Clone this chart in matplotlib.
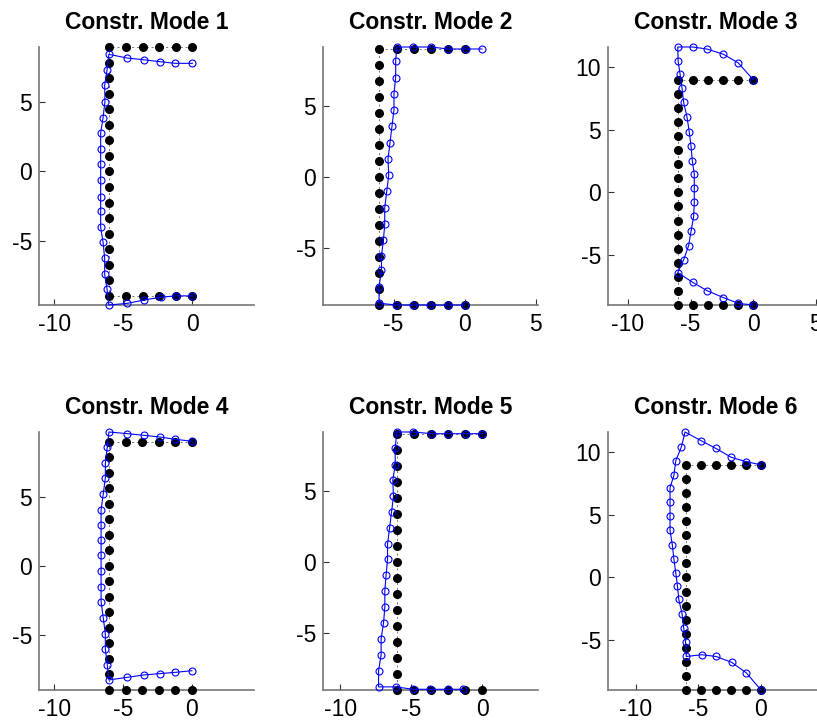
import matplotlib
matplotlib.use("Agg")
import matplotlib.pyplot as plt
from matplotlib.ticker import MultipleLocator

plt.rcParams['font.family'] = ['Liberation Sans', 'DejaVu Sans']
plt.rcParams['axes.unicode_minus'] = False

titles = ["Constr. Mode 1", "Constr. Mode 2", "Constr. Mode 3",
          "Constr. Mode 4", "Constr. Mode 5", "Constr. Mode 6"]

# undeformed channel section: top flange tip -> web -> bottom flange tip
base_x = [0, -1.2, -2.4, -3.6, -4.8, -6,
          -6, -6, -6, -6, -6, -6, -6, -6, -6, -6, -6, -6, -6, -6, -6,
          -6, -4.8, -3.6, -2.4, -1.2, 0]
base_y = [9, 9, 9, 9, 9, 9,
          7.875, 6.75, 5.625, 4.5, 3.375, 2.25, 1.125, 0, -1.125, -2.25, -3.375, -4.5, -5.625, -6.75, -7.875,
          -9, -9, -9, -9, -9, -9]

# deformed shapes, same node order
mode1_x = [0, -1.24, -2.37, -3.53, -4.7, -6.04,
           -6.17, -6.34, -6.32, -6.46, -6.63, -6.63, -6.63, -6.63, -6.63, -6.63, -6.63, -6.46, -6.34, -6.34, -6.17,
           -6.04, -4.7, -3.5, -2.3, -1.2, 0]
mode1_y = [7.82, 7.82, 7.94, 8.08, 8.2, 8.47,
           7.33, 6.24, 5.05, 3.86, 2.79, 1.63, 0.56, -0.61, -1.82, -2.86, -4.05, -5.1, -6.26, -7.45, -8.5,
           -9.66, -9.54, -9.3, -9.1, -9.0, -9.0]

mode2_x = [1.21, 0.07, -1.17, -2.38, -3.62, -4.79,
           -4.86, -4.86, -4.98, -4.98, -5.12, -5.26, -5.4, -5.35, -5.49, -5.63, -5.63, -5.72, -5.86, -5.86, -6.03,
           -6.03, -4.86, -3.62, -2.45, -1.17, 0]
mode2_y = [9.01, 9.01, 9.01, 9.15, 9.15, 9.15,
           8.15, 7.0, 5.87, 4.74, 3.57, 2.42, 1.27, 0.14, -1.01, -2.16, -3.31, -4.41, -5.56, -6.57, -7.7,
           -8.87, -9.0, -9.0, -9.0, -9.0, -9.0]

mode3_x = [0, -1.19, -2.38, -3.7, -4.84, -6.03,
           -6.0, -5.85, -5.69, -5.56, -5.29, -5.11, -4.97, -4.87, -4.71, -4.71, -4.71, -4.76, -4.97, -5.16, -5.56,
           -6.03, -4.84, -3.7, -2.38, -1.19, 0]
mode3_y = [9.0, 10.33, 11.03, 11.45, 11.61, 11.61,
           10.47, 9.48, 8.33, 7.19, 6.01, 4.81, 3.69, 2.52, 1.48, 0.33, -0.81, -1.93, -3.11, -4.25, -5.39,
           -6.41, -7.19, -7.85, -8.41, -8.87, -9.0]

mode4_x = [0, -1.22, -2.35, -3.5, -4.68, -6.02,
           -6.14, -6.28, -6.28, -6.43, -6.59, -6.59, -6.59, -6.59, -6.59, -6.59, -6.59, -6.43, -6.28, -6.28, -6.14,
           -6.02, -4.68, -3.5, -2.35, -1.22, 0]
mode4_y = [9.05, 9.19, 9.36, 9.48, 9.6, 9.72,
           8.64, 7.45, 6.39, 5.25, 4.07, 2.98, 1.87, 0.81, -0.4, -1.56, -2.6, -3.78, -4.96, -6.03, -7.19,
           -8.27, -8.08, -7.91, -7.81, -7.72, -7.6]

mode5_x = [0, -1.17, -2.41, -3.57, -4.86, -6.03,
           -6.14, -6.14, -6.31, -6.26, -6.4, -6.54, -6.68, -6.68, -6.78, -6.87, -6.87, -6.96, -7.13, -7.13, -7.31,
           -7.31, -6.1, -4.88, -3.69, -2.41, -1.36]
mode5_y = [9.04, 9.04, 9.04, 9.04, 9.16, 9.16,
           8.0, 6.86, 5.75, 4.64, 3.51, 2.37, 1.26, 0.2, -0.91, -2.0, -3.16, -4.27, -5.4, -6.52, -7.63,
           -8.78, -8.78, -8.95, -8.95, -8.95, -8.95]

mode6_x = [0, -1.18, -2.36, -3.61, -4.76, -6.07,
           -6.36, -6.81, -6.96, -7.27, -7.27, -7.27, -7.27, -7.09, -6.96, -6.81, -6.68, -6.57, -6.31, -6.18, -6.03,
           -5.97, -4.73, -3.58, -2.34, -1.17, 0]
mode6_y = [9.0, 9.26, 9.6, 10.32, 10.92, 11.63,
           10.45, 9.34, 8.16, 7.18, 6.05, 4.92, 3.76, 2.61, 1.45, 0.34, -0.66, -1.76, -2.89, -4.03, -5.18,
           -6.32, -6.18, -6.32, -6.79, -7.63, -9.0]

modes = [(mode1_x, mode1_y), (mode2_x, mode2_y), (mode3_x, mode3_y),
         (mode4_x, mode4_y), (mode5_x, mode5_y), (mode6_x, mode6_y)]

W, H = 817, 723
fig = plt.figure(figsize=(W / 100, H / 100), dpi=100)

# axes boxes in pixels: left, top, width, height
lefts = [39, 323, 608]
tops = [47, 432]
box_w, box_h = 215, 258

for i, (mx, my) in enumerate(modes):
    row, col = i // 3, i % 3
    l, t = lefts[col], tops[row]
    ax = fig.add_axes([l / W, (H - t - box_h) / H, box_w / W, box_h / H])

    ax.plot(base_x, base_y, color='#444444', ls='--', lw=0.5, dashes=(3, 4), zorder=2, clip_on=False)
    ax.plot(base_x, base_y, 'o', color='k', ms=5.5, mec='k', zorder=3, clip_on=False)
    ax.plot(mx, my, '-o', color='b', lw=0.8, ms=5, mfc='none', mec='b', mew=0.8, zorder=4, clip_on=False)

    # tight limits with equal scaling (like matlab axis equal tight)
    allx = base_x + mx
    ally = base_y + my
    ylo, yhi = min(ally), max(ally)
    ppu = box_h / (yhi - ylo)
    xc = (min(allx) + max(allx)) / 2
    half = box_w / ppu / 2
    ax.set_xlim(xc - half, xc + half)
    ax.set_ylim(ylo, yhi)

    ax.xaxis.set_major_locator(MultipleLocator(5))
    ax.yaxis.set_major_locator(MultipleLocator(5))
    for s in ['top', 'right']:
        ax.spines[s].set_visible(False)
    for s in ['left', 'bottom']:
        ax.spines[s].set_color('#777777')
        ax.spines[s].set_linewidth(1.2)
    ax.tick_params(direction='in', length=4, width=0.8, color='#333333', labelsize=16.5)
    ax.tick_params(axis='x', pad=6)
    ax.tick_params(axis='y', pad=5)
    ax.set_title(titles[i], fontsize=16.5, fontweight='bold', pad=13)

fig.savefig('out.png', dpi=100)
